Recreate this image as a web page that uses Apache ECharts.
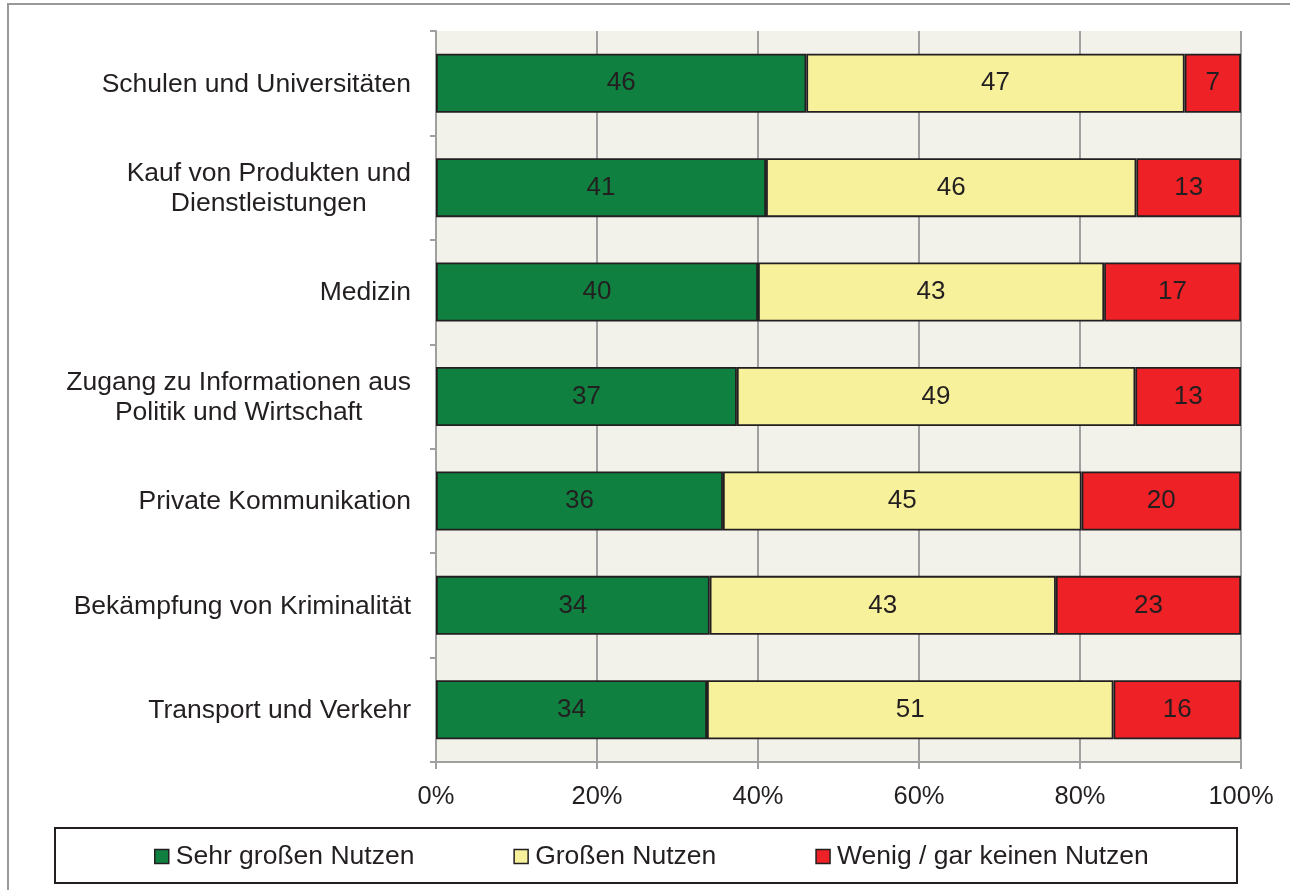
<!DOCTYPE html>
<html>
<head>
<meta charset="utf-8">
<script src="https://cdn.jsdelivr.net/npm/echarts@6/dist/echarts.min.js"></script>
<style>
html,body{margin:0;padding:0;background:#fff}
#main{width:1290px;height:890px}
</style>
</head>
<body>
<div id="main"></div>
<script>
var myChart = echarts.init(document.getElementById('main'))

var categories = [
    'Schulen und Universitäten',
    'Kauf von Produkten und\nDienstleistungen',
    'Medizin',
    'Zugang zu Informationen aus\nPolitik und Wirtschaft',
    'Private Kommunikation',
    'Bekämpfung von Kriminalität',
    'Transport und Verkehr'
]
var seriesNames = ['Sehr großen Nutzen', 'Großen Nutzen', 'Wenig / gar keinen Nutzen']
var sehrGross = [46, 41, 40, 37, 36, 34, 34]
var gross = [47, 46, 43, 49, 45, 43, 51]
var wenig = [7, 13, 17, 13, 20, 23, 16]
var colors = ['#0f8040', '#f7f19b', '#ee2126']

// bars are drawn as shares of each row's total (rows sum to 99..101)
var totals = categories.map(function (c, i) {
    return sehrGross[i] + gross[i] + wenig[i]
})
function shares(arr) {
    return arr.map(function (v, i) {
        return { value: v / totals[i] * 100, raw: v }
    })
}

var textColor = '#231f20'
var font = 'Liberation Sans, Arial, sans-serif'

var series = [sehrGross, gross, wenig].map(function (arr, k) {
    return {
        name: seriesNames[k],
        type: 'bar',
        stack: 'all',
        barWidth: 59,
        data: shares(arr),
        itemStyle: {
            color: colors[k],
            borderColor: textColor,
            borderWidth: 1.8
        },
        label: {
            show: true,
            position: 'inside',
            color: textColor,
            fontSize: 26,
            fontFamily: font,
            padding: [2, 0, 0, 0],
            formatter: function (p) { return p.data.raw }
        }
    }
})

var option = {
    animation: false,
    backgroundColor: '#ffffff',
    textStyle: { fontFamily: font },
    graphic: [
        {
            type: 'rect',
            shape: { x: 8, y: 4, width: 1300, height: 900 },
            style: { fill: 'none', stroke: '#999999', lineWidth: 2 },
            z: -10
        },
        {
            type: 'rect',
            shape: { x: 55, y: 828, width: 1182, height: 55 },
            style: { fill: 'none', stroke: textColor, lineWidth: 2 }
        }
    ],
    legend: {
        left: 154,
        top: 843,
        padding: 0,
        itemWidth: 14,
        itemHeight: 14,
        itemGap: 99,
        icon: 'rect',
        data: seriesNames,
        itemStyle: { borderColor: textColor, borderWidth: 1.5 },
        textStyle: { color: textColor, fontSize: 26.5, fontFamily: font, padding: [0, 0, 0, 2] }
    },
    grid: {
        left: 436,
        right: 49,
        top: 31,
        bottom: 128,
        show: true,
        backgroundColor: '#f2f1ea',
        borderWidth: 0
    },
    xAxis: {
        type: 'value',
        min: 0,
        max: 100,
        interval: 20,
        axisLine: { show: true, lineStyle: { color: '#a0a0a0', width: 2 } },
        axisTick: { show: true, length: 7, lineStyle: { color: '#a0a0a0', width: 2 } },
        splitLine: { show: true, lineStyle: { color: '#a0a0a0', width: 2 } },
        axisLabel: {
            color: textColor,
            fontSize: 25.5,
            fontFamily: font,
            margin: 22,
            formatter: '{value}%'
        }
    },
    yAxis: {
        type: 'category',
        inverse: true,
        data: categories,
        axisLine: { show: true, lineStyle: { color: '#a0a0a0', width: 2 } },
        axisTick: { show: true, length: 6, lineStyle: { color: '#a0a0a0', width: 2 } },
        axisLabel: {
            margin: 25,
            formatter: function (v) {
                return v.split('\n').map(function (s) { return '{c|' + s + '}' }).join('\n')
            },
            rich: {
                c: {
                    align: 'center',
                    color: textColor,
                    fontSize: 26.5,
                    fontFamily: font,
                    lineHeight: 30,
                    padding: [2, 0, 0, 0]
                }
            }
        }
    },
    series: series
}
myChart.setOption(option)
</script>
</body>
</html>
